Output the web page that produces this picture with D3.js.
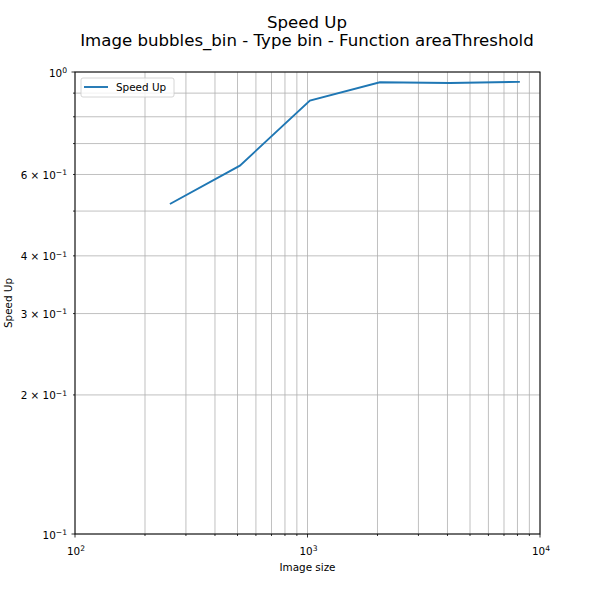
<!DOCTYPE html>
<html><head><meta charset="utf-8">
<script src="https://cdn.jsdelivr.net/npm/d3@7"></script>
<style>body{margin:0;background:#fff}text{font-family:"DejaVu Sans",sans-serif;fill:#000}</style>
</head><body><svg id="c" width="600" height="600"></svg>
<script>
const sizes = [256, 512, 1024, 2048, 4096, 8192];
const speedUp = [0.518, 0.627, 0.867, 0.950, 0.947, 0.952];
const xMajor = [100, 1000, 10000];
const xMajorLabels = [["10","2"],["10","3"],["10","4"]];
const yMajor = [0.1, 1];
const yMajorLabels = [["10","−1"],["10","0"]];
const yMinorLabeled = [0.2, 0.3, 0.4, 0.6];
const yMinorLabels = [["2 × 10","−1"],["3 × 10","−1"],["4 × 10","−1"],["6 × 10","−1"]];
const titleLines = ["Speed Up", "Image bubbles_bin - Type bin - Function areaThreshold"];

const svg = d3.select("#c");
const L=75,R=540,T=72,B=534;
const x = d3.scaleLog().domain([100,10000]).range([L,R]);
const y = d3.scaleLog().domain([0.1,1]).range([B,T]);
const xMinor=[], yMinor=[];
for (const d of [100,1000]) for (let k=2;k<=9;k++) xMinor.push(d*k);
for (let k=2;k<=9;k++) yMinor.push(0.1*k);

const g = svg.append("g");
g.selectAll(".gx").data(xMinor.concat(xMajor)).join("line")
 .attr("x1",d=>x(d)).attr("x2",d=>x(d)).attr("y1",T).attr("y2",B)
 .attr("stroke","#b0b0b0").attr("stroke-width",0.8);
g.selectAll(".gy").data(yMinor.concat(yMajor)).join("line")
 .attr("y1",d=>y(d)).attr("y2",d=>y(d)).attr("x1",L).attr("x2",R)
 .attr("stroke","#b0b0b0").attr("stroke-width",0.8);

svg.append("path").datum(sizes.map((s,i)=>[s,speedUp[i]]))
 .attr("d", d3.line().x(d=>x(d[0])).y(d=>y(d[1])))
 .attr("fill","none").attr("stroke","#1f77b4").attr("stroke-width",1.9);

svg.append("rect").attr("x",L).attr("y",T).attr("width",R-L).attr("height",B-T)
 .attr("fill","none").attr("stroke","#000").attr("stroke-width",1);

const tk = svg.append("g").attr("stroke","#000").attr("stroke-width",0.8);
xMajor.forEach(d=>tk.append("line").attr("x1",x(d)).attr("x2",x(d)).attr("y1",B).attr("y2",B+3.5));
xMinor.forEach(d=>tk.append("line").attr("x1",x(d)).attr("x2",x(d)).attr("y1",B).attr("y2",B+2));
yMajor.forEach(d=>tk.append("line").attr("y1",y(d)).attr("y2",y(d)).attr("x1",L).attr("x2",L-3.5));
yMinor.forEach(d=>tk.append("line").attr("y1",y(d)).attr("y2",y(d)).attr("x1",L).attr("x2",L-2));

function sup(sel, lab){
  sel.append("tspan").text(lab[0]);
  sel.append("tspan").attr("dy",-3.8).attr("font-size",7.6).text(lab[1]);
}
xMajor.forEach((d,i)=>{
  const t=svg.append("text").attr("x",x(d)+1).attr("y",B+21).attr("font-size",10.4).attr("text-anchor","middle");
  sup(t,xMajorLabels[i]);
});
yMajor.forEach((d,i)=>{
  const t=svg.append("text").attr("x",L-8).attr("y",y(d)+4.5).attr("font-size",10.4).attr("text-anchor","end");
  sup(t,yMajorLabels[i]);
});
yMinorLabeled.forEach((d,i)=>{
  const t=svg.append("text").attr("x",L-8).attr("y",y(d)+4.5).attr("font-size",10.4).attr("text-anchor","end");
  sup(t,yMinorLabels[i]);
});

svg.append("text").attr("x",(L+R)/2).attr("y",571).attr("font-size",10.4).attr("text-anchor","middle").text("Image size");
svg.append("text").attr("transform",`translate(12,${(T+B)/2}) rotate(-90)`).attr("font-size",10.4).attr("text-anchor","middle").text("Speed Up");

titleLines.forEach((s,i)=>svg.append("text").attr("x",307).attr("y",28+i*18).attr("font-size",16.6).attr("text-anchor","middle").text(s));

const lg = svg.append("g");
lg.append("rect").attr("x",81).attr("y",78).attr("width",93).attr("height",19).attr("rx",2)
 .attr("fill","#fff").attr("fill-opacity",0.8).attr("stroke","#ccc").attr("stroke-width",0.8);
lg.append("line").attr("x1",84).attr("x2",108).attr("y1",87).attr("y2",87).attr("stroke","#1f77b4").attr("stroke-width",1.9);
lg.append("text").attr("x",116).attr("y",91).attr("font-size",10.4).text("Speed Up");
</script></body></html>
